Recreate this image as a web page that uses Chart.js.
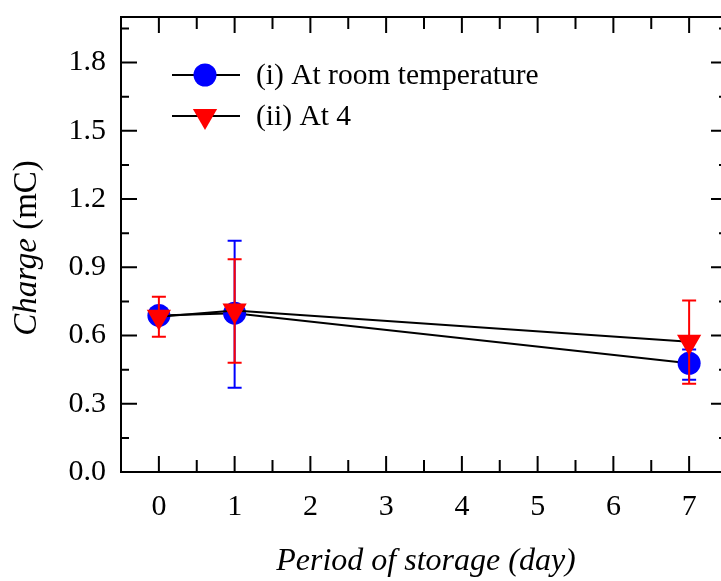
<!DOCTYPE html>
<html>
<head>
<meta charset="utf-8">
<script src="https://cdn.jsdelivr.net/npm/chart.js@4/dist/chart.umd.min.js"></script>
<style>
  html, body { margin: 0; padding: 0; background: #fff; overflow: hidden; }
  #wrap { width: 760px; height: 581px; }
</style>
</head>
<body>
<div id="wrap"><canvas id="c" width="760" height="581"></canvas></div>
<script>
// Storage days and measured charge (mC) with error bar limits
const days = [0, 1, 7];
const roomTemp = [0.688, 0.698, 0.478];
const roomTempLow = [0.66, 0.37, 0.405];
const roomTempHigh = [0.72, 1.017, 0.538];
const cold = [0.682, 0.71, 0.572];
const coldLow = [0.594, 0.48, 0.388];
const coldHigh = [0.77, 0.935, 0.754];

const xTicks = [0, 1, 2, 3, 4, 5, 6, 7];
const xMinorTicks = [-0.5, 0.5, 1.5, 2.5, 3.5, 4.5, 5.5, 6.5, 7.5];
const yTicks = [0, 0.3, 0.6, 0.9, 1.2, 1.5, 1.8];
const yMinorTicks = [0.15, 0.45, 0.75, 1.05, 1.35, 1.65, 1.95];

const seriesNames = ['(i) At room temperature', '(ii) At 4'];
const xTitle = 'Period of storage (day)';
const yTitleItalic = 'Charge';
const yTitleUpright = ' (mC)';

const SERIF = '"Liberation Serif", "Times New Roman", serif';

function pts(xs, ys) { return xs.map((x, i) => ({ x: x, y: ys[i] })); }

// Inward ticks on all four sides plus the closing top/right frame
const framePlugin = {
  id: 'frame',
  afterDraw(chart) {
    const { ctx, chartArea: a, scales: { x, y } } = chart;
    ctx.save();
    ctx.strokeStyle = '#000';
    ctx.lineWidth = 2;
    ctx.beginPath();
    ctx.moveTo(a.left, a.top); ctx.lineTo(a.right, a.top); ctx.lineTo(a.right, a.bottom);
    xTicks.forEach(v => {
      const px = x.getPixelForValue(v);
      ctx.moveTo(px, a.bottom); ctx.lineTo(px, a.bottom - 16);
      ctx.moveTo(px, a.top); ctx.lineTo(px, a.top + 16);
    });
    xMinorTicks.forEach(v => {
      const px = x.getPixelForValue(v);
      ctx.moveTo(px, a.bottom); ctx.lineTo(px, a.bottom - 12);
      ctx.moveTo(px, a.top); ctx.lineTo(px, a.top + 12);
    });
    yTicks.forEach(v => {
      const py = y.getPixelForValue(v);
      ctx.moveTo(a.left, py); ctx.lineTo(a.left + 16, py);
      ctx.moveTo(a.right, py); ctx.lineTo(a.right - 16, py);
    });
    yMinorTicks.forEach(v => {
      const py = y.getPixelForValue(v);
      ctx.moveTo(a.left, py); ctx.lineTo(a.left + 8, py);
      ctx.moveTo(a.right, py); ctx.lineTo(a.right - 8, py);
    });
    ctx.stroke();

    // Axis titles
    ctx.fillStyle = '#000';
    ctx.textBaseline = 'alphabetic';
    ctx.font = 'italic 32px ' + SERIF;
    ctx.textAlign = 'center';
    ctx.fillText(xTitle, 426, 570);

    ctx.translate(36, 248);
    ctx.rotate(-Math.PI / 2);
    ctx.font = 'italic 33px ' + SERIF;
    const w1 = ctx.measureText(yTitleItalic).width;
    ctx.font = '33px ' + SERIF;
    const w2 = ctx.measureText(yTitleUpright).width;
    const start = -(w1 + w2) / 2;
    ctx.textAlign = 'left';
    ctx.font = 'italic 33px ' + SERIF;
    ctx.fillText(yTitleItalic, start, 0);
    ctx.font = '33px ' + SERIF;
    ctx.fillText(yTitleUpright, start + w1, 0);
    ctx.restore();
  }
};

// Error bars drawn just before the top-most dataset
const errorBarPlugin = {
  id: 'errorBars',
  beforeDatasetDraw(chart, args) {
    if (args.index !== 1) return;
    const { ctx, scales: { x, y } } = chart;
    const sets = [
      { lo: roomTempLow, hi: roomTempHigh, color: '#0000ff' },
      { lo: coldLow, hi: coldHigh, color: '#ff0000' }
    ];
    ctx.save();
    ctx.lineWidth = 2;
    sets.forEach(s => {
      ctx.strokeStyle = s.color;
      ctx.beginPath();
      days.forEach((d, i) => {
        const px = x.getPixelForValue(d);
        const pl = y.getPixelForValue(s.lo[i]);
        const ph = y.getPixelForValue(s.hi[i]);
        ctx.moveTo(px, pl); ctx.lineTo(px, ph);
        ctx.moveTo(px - 7, pl); ctx.lineTo(px + 7, pl);
        ctx.moveTo(px - 7, ph); ctx.lineTo(px + 7, ph);
      });
      ctx.stroke();
    });
    ctx.restore();
  }
};

// Legend with a line through each marker
const legendPlugin = {
  id: 'markerLegend',
  afterDraw(chart) {
    const { ctx } = chart;
    const rows = [
      { y: 75, type: 'circle', color: '#0000ff', r: 11.5 },
      { y: 116, type: 'tri', color: '#ff0000', r: 14 }
    ];
    ctx.save();
    rows.forEach((row, i) => {
      ctx.strokeStyle = '#000';
      ctx.lineWidth = 2;
      ctx.beginPath();
      ctx.moveTo(172, row.y); ctx.lineTo(240, row.y);
      ctx.stroke();
      ctx.fillStyle = row.color;
      ctx.beginPath();
      if (row.type === 'circle') {
        ctx.arc(205, row.y, row.r, 0, Math.PI * 2);
      } else {
        const r = row.r;
        ctx.moveTo(205, row.y + r);
        ctx.lineTo(205 - r * Math.sqrt(3) / 2, row.y - r / 2);
        ctx.lineTo(205 + r * Math.sqrt(3) / 2, row.y - r / 2);
        ctx.closePath();
      }
      ctx.fill();
      ctx.fillStyle = '#000';
      ctx.font = '29.5px ' + SERIF;
      ctx.textAlign = 'left';
      ctx.textBaseline = 'middle';
      ctx.fillText(seriesNames[i], 256, row.y + 1);
    });
    ctx.restore();
  }
};

new Chart(document.getElementById('c'), {
  type: 'line',
  data: {
    datasets: [
      {
        label: seriesNames[0],
        data: pts(days, roomTemp),
        borderColor: '#000',
        borderWidth: 2,
        pointStyle: 'circle',
        pointRadius: 11.5,
        pointBackgroundColor: '#0000ff',
        pointBorderColor: '#0000ff',
        pointBorderWidth: 0,
        order: 2
      },
      {
        label: seriesNames[1],
        data: pts(days, cold),
        borderColor: '#000',
        borderWidth: 2,
        pointStyle: 'triangle',
        pointRotation: 180,
        pointRadius: 14,
        pointBackgroundColor: '#ff0000',
        pointBorderColor: '#ff0000',
        pointBorderWidth: 0,
        order: 1
      }
    ]
  },
  options: {
    responsive: false,
    animation: false,
    devicePixelRatio: 1,
    layout: { padding: { top: 17, right: 33, left: 0, bottom: 0 } },
    plugins: { legend: { display: false }, tooltip: { enabled: false } },
    scales: {
      x: {
        type: 'linear',
        min: -0.5,
        max: 7.5,
        afterBuildTicks(scale) { scale.ticks = xTicks.map(v => ({ value: v })); },
        afterFit(scale) {
          scale.height = 109;
          scale.paddingLeft = 0;
          scale.paddingRight = 0;
        },
        grid: { drawOnChartArea: false, drawTicks: false },
        border: { color: '#000', width: 2 },
        ticks: {
          color: '#000',
          padding: 17,
          font: { family: SERIF, size: 30 },
          callback: v => String(v)
        }
      },
      y: {
        min: 0,
        max: 2.0,
        afterBuildTicks(scale) { scale.ticks = yTicks.map(v => ({ value: v })); },
        afterFit(scale) {
          scale.width = 121;
          scale.paddingTop = 0;
          scale.paddingBottom = 0;
        },
        grid: { drawOnChartArea: false, drawTicks: false },
        border: { color: '#000', width: 2 },
        ticks: {
          color: '#000',
          padding: 15,
          font: { family: SERIF, size: 30 },
          callback: v => Number(v).toFixed(1)
        }
      }
    }
  },
  plugins: [errorBarPlugin, framePlugin, legendPlugin]
});
</script>
</body>
</html>
